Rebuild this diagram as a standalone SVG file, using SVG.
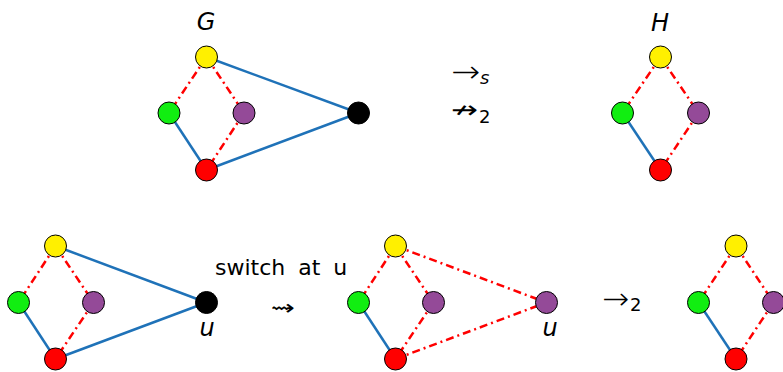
<svg xmlns="http://www.w3.org/2000/svg" width="783" height="372" viewBox="0 0 783 372">
<style>
.b{stroke:#1f72b8;stroke-width:2.5;fill:none}
.r{stroke:#ff0000;stroke-width:2.5;fill:none;stroke-dasharray:8,4,2,4}
.n{stroke:#000;stroke-width:1}
.y{fill:#fff000}.g{fill:#11ee11}.p{fill:#944a98}.rd{fill:#ff0000}.k{fill:#000}
.lbl{font-family:"DejaVu Sans","Liberation Sans",sans-serif;font-style:italic;font-size:24px;fill:#000;text-anchor:middle}
.t{font-family:"DejaVu Sans","Liberation Sans",sans-serif;fill:#000}
.ar{font-family:"DejaVu Sans","Liberation Sans",sans-serif;font-weight:200;fill:#000}
</style>
<rect width="783" height="372" fill="#fff"/>
<g id="connectors">
<line class="b" x1="206.5" y1="57" x2="358.5" y2="113"/>
<line class="b" x1="206.5" y1="170" x2="358.5" y2="113"/>
<line class="b" x1="169" y1="113" x2="206.5" y2="170"/>
<line class="r" x1="206.5" y1="57" x2="169" y2="113"/>
<line class="r" x1="206.5" y1="57" x2="244" y2="113"/>
<line class="r" x1="244" y1="113" x2="206.5" y2="170"/>
<line class="b" x1="622.5" y1="113" x2="660.5" y2="170"/>
<line class="r" x1="660.5" y1="57" x2="622.5" y2="113"/>
<line class="r" x1="660.5" y1="57" x2="698.5" y2="113"/>
<line class="r" x1="698.5" y1="113" x2="660.5" y2="170"/>
<line class="b" x1="55.5" y1="246" x2="206.5" y2="302.5"/>
<line class="b" x1="55.5" y1="359" x2="206.5" y2="302.5"/>
<line class="b" x1="18.5" y1="302.5" x2="55.5" y2="359"/>
<line class="r" x1="55.5" y1="246" x2="18.5" y2="302.5"/>
<line class="r" x1="55.5" y1="246" x2="93.5" y2="302.5"/>
<line class="r" x1="93.5" y1="302.5" x2="55.5" y2="359"/>
<line class="r" x1="395.5" y1="246" x2="546.5" y2="302.5"/>
<line class="r" x1="395.5" y1="359" x2="546.5" y2="302.5"/>
<line class="b" x1="358.5" y1="302.5" x2="395.5" y2="359"/>
<line class="r" x1="395.5" y1="246" x2="358.5" y2="302.5"/>
<line class="r" x1="395.5" y1="246" x2="433.5" y2="302.5"/>
<line class="r" x1="433.5" y1="302.5" x2="395.5" y2="359"/>
<line class="b" x1="698.5" y1="302.5" x2="736" y2="359"/>
<line class="r" x1="736" y1="246" x2="698.5" y2="302.5"/>
<line class="r" x1="736" y1="246" x2="773.5" y2="302.5"/>
<line class="r" x1="773.5" y1="302.5" x2="736" y2="359"/>
</g>
<g id="G-yellow"><circle class="n y" cx="206.5" cy="57" r="11"/></g>
<g id="G-green"><circle class="n g" cx="169" cy="113" r="11"/></g>
<g id="G-purple"><circle class="n p" cx="244" cy="113" r="11"/></g>
<g id="G-red"><circle class="n rd" cx="206.5" cy="170" r="11"/></g>
<g id="G-black"><circle class="n k" cx="358.5" cy="113" r="11"/></g>
<g id="H-yellow"><circle class="n y" cx="660.5" cy="57" r="11"/></g>
<g id="H-green"><circle class="n g" cx="622.5" cy="113" r="11"/></g>
<g id="H-purple"><circle class="n p" cx="698.5" cy="113" r="11"/></g>
<g id="H-red"><circle class="n rd" cx="660.5" cy="170" r="11"/></g>
<g id="A-yellow"><circle class="n y" cx="55.5" cy="246" r="11"/></g>
<g id="A-green"><circle class="n g" cx="18.5" cy="302.5" r="11"/></g>
<g id="A-purple"><circle class="n p" cx="93.5" cy="302.5" r="11"/></g>
<g id="A-red"><circle class="n rd" cx="55.5" cy="359" r="11"/></g>
<g id="A-black"><circle class="n k" cx="206.5" cy="302.5" r="11"/></g>
<g id="B-yellow"><circle class="n y" cx="395.5" cy="246" r="11"/></g>
<g id="B-green"><circle class="n g" cx="358.5" cy="302.5" r="11"/></g>
<g id="B-purple"><circle class="n p" cx="433.5" cy="302.5" r="11"/></g>
<g id="B-red"><circle class="n rd" cx="395.5" cy="359" r="11"/></g>
<g id="B-u"><circle class="n p" cx="546.5" cy="302.5" r="11"/></g>
<g id="C-yellow"><circle class="n y" cx="736" cy="246" r="11"/></g>
<g id="C-green"><circle class="n g" cx="698.5" cy="302.5" r="11"/></g>
<g id="C-purple"><circle class="n p" cx="773.5" cy="302.5" r="11"/></g>
<g id="C-red"><circle class="n rd" cx="736" cy="359" r="11"/></g>
<g id="labels">
<text class="lbl" x="206" y="30">G</text>
<text class="lbl" x="660" y="30.5">H</text>
<text class="lbl" x="207" y="336">u</text>
<text class="lbl" x="550" y="336">u</text>
<text class="ar" x="451" y="82" font-size="30" textLength="29" lengthAdjust="spacingAndGlyphs">→</text>
<text class="t" x="480" y="84" font-size="18" font-style="italic">s</text>
<text class="t" x="451" y="117.5" font-size="24" textLength="27" lengthAdjust="spacingAndGlyphs">↛</text>
<text class="t" x="479" y="123" font-size="18">2</text>
<text class="t" x="215" y="275" font-size="22" word-spacing="6">switch at u</text>
<text class="t" x="271" y="315" font-size="21" textLength="24" lengthAdjust="spacingAndGlyphs">⇝</text>
<text class="ar" x="602" y="309" font-size="30" textLength="27" lengthAdjust="spacingAndGlyphs">→</text>
<text class="t" x="630" y="311" font-size="18">2</text>
</g>
</svg>
